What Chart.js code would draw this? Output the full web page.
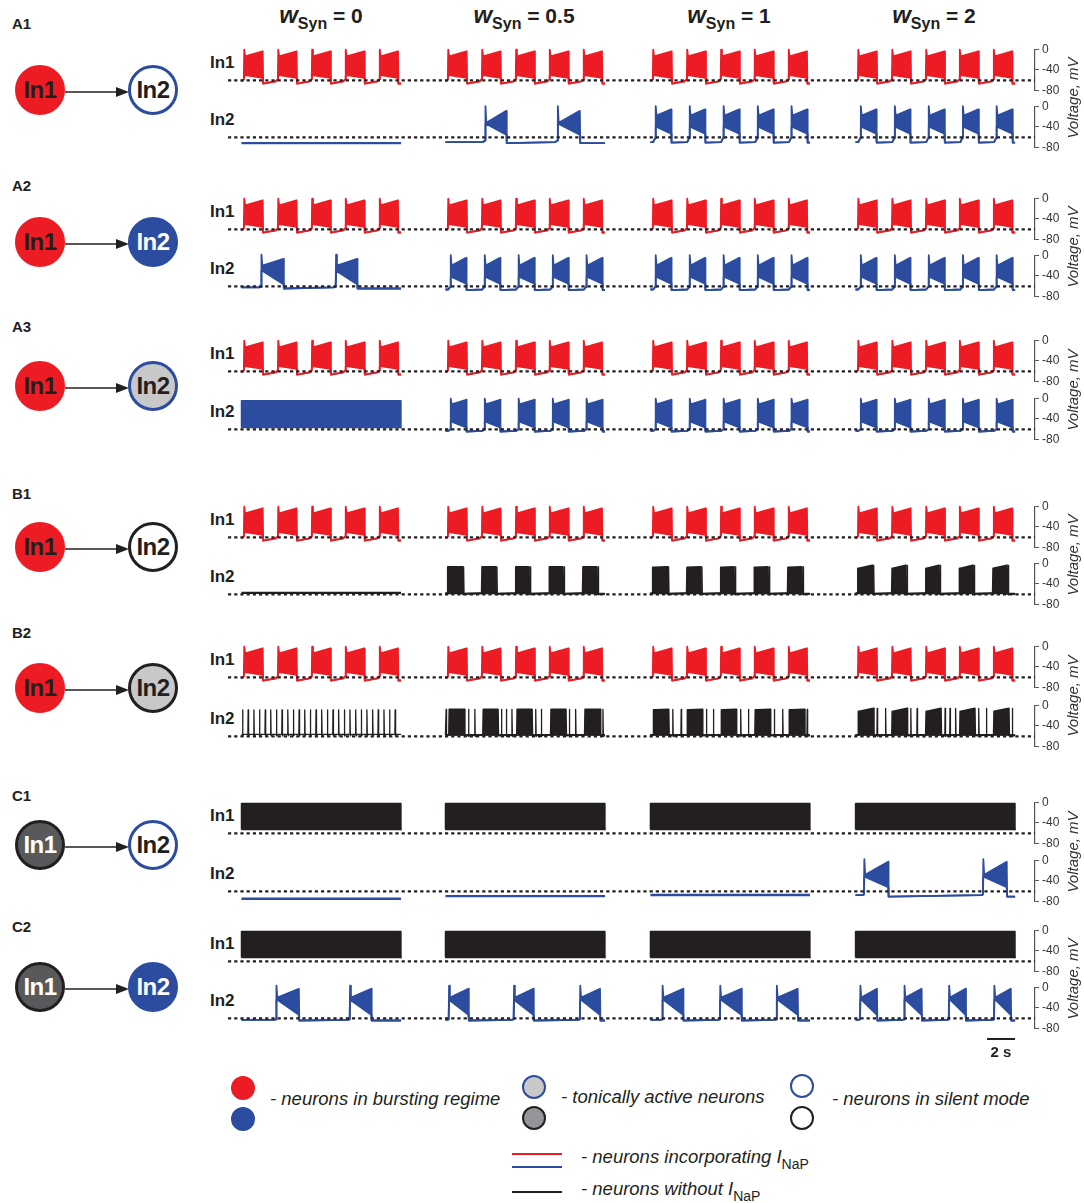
<!DOCTYPE html>
<html>
<head>
<meta charset="utf-8">
<script src="https://cdn.jsdelivr.net/npm/chart.js@4.4.0/dist/chart.umd.min.js"></script>
<style>
body { margin: 0; background: #fff; font-family: "Liberation Sans", Arial, sans-serif; color: #231f20; }
#page { position: relative; width: 1084px; height: 1203px; overflow: hidden; }
.abs { position: absolute; }
.head { font-weight: bold; font-size: 21px; width: 200px; text-align: center; top: 1px; white-space: nowrap; }
.head i { font-size: 24px; }
.head sub { font-size: 16px; vertical-align: -6px; }
.panel { font-weight: bold; font-size: 15px; left: 12px; line-height: 16px; }
.nlab { font-weight: bold; font-size: 17px; left: 210px; line-height: 18px; }
.cell { width: 44px; height: 44px; border-radius: 50%; border: 3px solid; display: flex; align-items: center; justify-content: center; font-weight: bold; font-size: 24px; letter-spacing: -0.5px; }
.volt { font-style: italic; font-size: 15px; width: 110px; height: 16px; line-height: 16px; text-align: center; transform: rotate(-90deg); white-space: nowrap; color: #333; }
.leg { font-style: italic; font-size: 18.5px; white-space: nowrap; line-height: 20px; }
.leg sub { font-style: normal; font-size: 14px; vertical-align: -6px; }
.dot { width: 20px; height: 20px; border-radius: 50%; border: 2px solid; }
canvas { position: absolute; }
</style>
</head>
<body>
<div id="page"></div>
<script>
// ---- data ----
const wSyn = ['0', '0.5', '1', '2'];
const panels = ['A1', 'A2', 'A3', 'B1', 'B2', 'C1', 'C2'];
const voltTicks = [0, -40, -80];

// burst onsets / offsets in seconds (each trace runs 0.1 - 11.5 s)
const in1On  = [0.27, 2.70, 5.12, 7.52, 9.95];
const in1Off = [1.62, 4.04, 6.46, 8.88, 11.28];
const syncOn  = [0.45, 2.88, 5.30, 7.74, 10.15];
const syncOff = [1.58, 4.00, 6.45, 8.88, 11.30];
const a1HalfOn  = [2.93, 8.10];
const a1HalfOff = [4.45, 9.70];
const a2ZeroOn  = [1.50, 6.83];
const a2ZeroOff = [3.10, 8.36];
const c1TwoOn  = [0.70, 9.20];
const c1TwoOff = [2.43, 10.90];
const c2On  = [[2.57, 7.83], [0.33, 4.97, 9.70], [0.94, 5.06, 9.10], [0.42, 3.57, 6.76, 9.99]];
const c2Off = [[4.20, 9.37], [1.74, 6.38, 11.14], [2.43, 6.60, 10.62], [1.63, 4.82, 7.96, 11.19]];
const b1On   = [0.24, 2.69, 5.10, 7.50, 9.90];
const b1Off  = [1.30, 3.68, 6.06, 8.49, 10.92];
const b1Last = [1.40, 3.78, 6.16, 8.59, 11.02];
const b2Tonic = [0.18, 0.58, 0.99, 1.39, 1.80, 2.19, 2.60, 3.00, 3.41, 3.81, 4.22, 4.62, 5.02, 5.43,
                 5.83, 6.24, 6.64, 7.04, 7.45, 7.85, 8.26, 8.66, 9.06, 9.47, 9.87, 10.28, 10.68, 11.08];
const b2On  = [[0.35, 2.78, 5.20, 7.62, 10.05], [0.30, 2.72, 5.15, 7.57, 10.00], [0.28, 2.70, 5.12, 7.55, 9.97]];
const b2Off = [[1.45, 3.85, 6.28, 8.70, 11.15], [1.40, 3.80, 6.22, 8.65, 11.10], [1.38, 3.78, 6.20, 8.62, 11.05]];
const b2Spk = [[0.15, 1.75, 2.20, 4.10, 4.45, 4.85, 6.55, 6.95, 8.95, 9.40, 11.35],
               [1.70, 2.30, 4.10, 4.60, 6.55, 7.10, 8.95, 9.55, 11.30],
               [1.65, 2.25, 4.05, 4.50, 6.50, 6.85, 7.25, 8.90, 9.45, 11.30]];

// burst shapes, mV: [pre-onset, spike peak, top start, top end, trough start, trough end, after burst, before next]
const redShape = [-58, -1, -14, -4, -50, -55, -66, -62];
const syncA1 = [-61, 0, -18, -6, -40, -53, -70, -69];
const syncA2 = [-61, 0, -20, -5, -42, -55, -67, -66];
const syncA3 = [-60, -1, -12, -3, -45, -56, -64, -63];
const slowA1 = [-66, 0, -32, -9, -34, -55, -71, -69];
const slowA2 = [-61, 1, -20, -7, -30, -56, -64, -62];
const slowC1 = [-66, 2, -28, -3, -32, -52, -70, -67];
const slowC2 = [-62, 3, -20, -3, -24, -53, -64, -63];
const blackB1 = [[-58, -7, -7, -7, -58, -58, -59, -58], [-58, -8, -8, -7, -58, -58, -59, -58], [-58, -10, -10, -4, -58, -58, -59, -58]];
const blackB2 = [[-57, -8, -8, -8, -57, -57, -58, -57], [-57, -9, -9, -8, -57, -57, -58, -57], [-57, -12, -12, -6, -57, -57, -58, -57]];
const blockA3 = [-56, -5, -5, -5, -56, -56, -56, -56];
const blockC  = [-52, -3, -3, -3, -52, -52, -52, -52];
const flatA1 = -71;
const flatB1 = -57;
const flatC1 = [-74, -69, -67];
const tonicPeak = -9, tonicBase = -56;

// ---- layout ----
const RED = '#ed1c24', BLUE = '#2b4c9f', BLACK = '#231f20';
const T0 = 0.1, T1 = 11.5;
const colShift = [0, 14.57, 29.21, 43.86];      // column start, s from first column
const xMin = -0.86, xMax = 56.78;               // canvas area 228 .. 1035 px
const in1Zero = [47, 196, 338, 504, 643.5, 800, 928];
const in2Zero = [103.5, 253, 395.5, 561, 702.5, 858, 985];
const panelY  = [16, 178, 319, 486, 625, 788, 919];
const circleY = [90, 242, 386, 547, 688, 845, 987];
const colCenter = [321, 524, 729, 934];

// ---- dataset builders ----
function lineSet(pts, color, fill, width) {
  return { data: pts, borderColor: color, backgroundColor: color, borderWidth: width || 1.8,
           fill: fill, pointRadius: 0, tension: 0, clip: 12, borderJoinStyle: 'round' };
}
function shift(pts, dx) { return pts.map(p => ({ x: p.x + dx, y: p.y })); }

function burstSets(on, off, shape, color, dx) {
  const [pre, peak, top0, top1, bot0, bot1, after, rest] = shape;
  const up = [{ x: T0, y: rest }], lo = [{ x: T0, y: rest }];
  on.forEach((t, i) => {
    const e = off[i];
    if (t - 0.15 > up[up.length - 1].x) { up.push({ x: t - 0.15, y: rest }); lo.push({ x: t - 0.15, y: rest }); }
    up.push({ x: t, y: pre }, { x: t + 0.03, y: peak }, { x: t + 0.09, y: top0 }, { x: e, y: top1 }, { x: e + 0.03, y: after });
    lo.push({ x: t, y: pre }, { x: t + 0.03, y: bot0 }, { x: t + 0.09, y: bot0 }, { x: e, y: bot1 }, { x: e + 0.03, y: after });
  });
  const tail = Math.max(T1, up[up.length - 1].x + 0.05);
  up.push({ x: tail, y: after }); lo.push({ x: tail, y: after });
  return [lineSet(shift(up, dx), color, '+1'), lineSet(shift(lo, dx), color, false)];
}
function spikeSets(times, base, peak, color, dx) {
  const pts = [{ x: T0, y: base }];
  times.forEach(s => pts.push({ x: s - 0.02, y: base }, { x: s, y: peak }, { x: s + 0.03, y: base - 3 }, { x: s + 0.1, y: base }));
  pts.push({ x: T1, y: base });
  return [lineSet(shift(pts, dx), color, false, 1.3)];
}
function flatSets(v, color, dx) {
  return [lineSet(shift([{ x: T0, y: v }, { x: T1, y: v }], dx), color, false, 2.4)];
}

const red = dx => burstSets(in1On, in1Off, redShape, RED, dx);
const blackBlock = dx => burstSets([T0], [T1 - 0.05], blockC, BLACK, dx);

const rowTraces = [
  [[red, red, red, red],
   [dx => flatSets(flatA1, BLUE, dx), dx => burstSets(a1HalfOn, a1HalfOff, slowA1, BLUE, dx),
    dx => burstSets(syncOn, syncOff, syncA1, BLUE, dx), dx => burstSets(syncOn, syncOff, syncA1, BLUE, dx)]],
  [[red, red, red, red],
   [dx => burstSets(a2ZeroOn, a2ZeroOff, slowA2, BLUE, dx), dx => burstSets(syncOn, syncOff, syncA2, BLUE, dx),
    dx => burstSets(syncOn, syncOff, syncA2, BLUE, dx), dx => burstSets(syncOn, syncOff, syncA2, BLUE, dx)]],
  [[red, red, red, red],
   [dx => burstSets([T0], [T1 - 0.05], blockA3, BLUE, dx), dx => burstSets(syncOn, syncOff, syncA3, BLUE, dx),
    dx => burstSets(syncOn, syncOff, syncA3, BLUE, dx), dx => burstSets(syncOn, syncOff, syncA3, BLUE, dx)]],
  [[red, red, red, red],
   [dx => flatSets(flatB1, BLACK, dx),
    ...[0, 1, 2].map(k => dx => burstSets(b1On, b1Off, blackB1[k], BLACK, dx).concat(spikeSets(b1Last, -58, blackB1[k][3], BLACK, dx)))]],
  [[red, red, red, red],
   [dx => spikeSets(b2Tonic, tonicBase, tonicPeak, BLACK, dx),
    ...[0, 1, 2].map(k => dx => burstSets(b2On[k], b2Off[k], blackB2[k], BLACK, dx).concat(spikeSets(b2Spk[k], -57, blackB2[k][3], BLACK, dx)))]],
  [[blackBlock, blackBlock, blackBlock, blackBlock],
   [dx => flatSets(flatC1[0], BLUE, dx), dx => flatSets(flatC1[1], BLUE, dx), dx => flatSets(flatC1[2], BLUE, dx),
    dx => burstSets(c1TwoOn, c1TwoOff, slowC1, BLUE, dx)]],
  [[blackBlock, blackBlock, blackBlock, blackBlock],
   [0, 1, 2, 3].map(k => dx => burstSets(c2On[k], c2Off[k], slowC2, BLUE, dx))]
];

// ---- drawing ----
const page = document.getElementById('page');
function add(html, cls, style) {
  const d = document.createElement('div');
  d.className = 'abs ' + (cls || '');
  d.innerHTML = html;
  Object.assign(d.style, style);
  page.appendChild(d);
  return d;
}

wSyn.forEach((w, k) => add('<i>w</i><sub>Syn</sub> = ' + w, 'head', { left: (colCenter[k] - 100) + 'px' }));

function makeChart(zeroY, builders) {
  const c = document.createElement('canvas');
  c.width = 856; c.height = 62;
  c.style.left = '228px'; c.style.top = (zeroY - 8) + 'px';
  page.appendChild(c);
  const datasets = [lineSet([{ x: xMin, y: -60 }, { x: xMax, y: -60 }], BLACK, false, 2.2)];
  datasets[0].borderDash = [3.2, 3];
  builders.forEach((b, k) => datasets.push(...b(colShift[k])));
  new Chart(c, {
    type: 'line',
    data: { datasets },
    options: {
      responsive: false, animation: false, events: [],
      layout: { padding: { top: 8, bottom: 8, left: 0, right: 0 } },
      plugins: { legend: { display: false }, tooltip: { enabled: false } },
      scales: {
        x: { type: 'linear', min: xMin, max: xMax, display: false },
        y: {
          position: 'right', min: -80, max: 0,
          afterFit: s => { s.width = 49; },
          grid: { drawOnChartArea: false, tickLength: 4, color: '#555', lineWidth: 1 },
          border: { display: true, color: '#555', width: 1.2 },
          ticks: { stepSize: 20, padding: 3, color: '#333', font: { size: 12, family: 'Liberation Sans' },
                   callback: v => voltTicks.includes(v) ? String(v) : '' }
        }
      }
    }
  });
}

const circleStyle = [
  [['In1', RED, RED, BLACK], ['In2', '#fff', BLUE, BLACK]],
  [['In1', RED, RED, BLACK], ['In2', BLUE, BLUE, '#fff']],
  [['In1', RED, RED, BLACK], ['In2', '#c8c8c8', BLUE, BLACK]],
  [['In1', RED, RED, BLACK], ['In2', '#fff', BLACK, BLACK]],
  [['In1', RED, RED, BLACK], ['In2', '#c8c8c8', BLACK, BLACK]],
  [['In1', '#58595b', BLACK, '#fff'], ['In2', '#fff', BLUE, BLACK]],
  [['In1', '#58595b', BLACK, '#fff'], ['In2', BLUE, BLUE, '#fff']]
];

panels.forEach((p, r) => {
  add(p, 'panel', { top: panelY[r] + 'px' });
  const cy = circleY[r];
  [15, 128].forEach((left, j) => {
    const [txt, fillC, edge, ink] = circleStyle[r][j];
    add(txt, 'cell', { left: left + 'px', top: (cy - 25) + 'px', background: fillC, borderColor: edge, color: ink });
  });
  add('<svg width="66" height="12"><line x1="0" y1="6" x2="56" y2="6" stroke="#231f20" stroke-width="1.6"/>' +
      '<polygon points="51,1 64,6 51,11" fill="#231f20"/></svg>', '', { left: '65px', top: (cy - 6) + 'px', height: '12px' });
  add('In1', 'nlab', { top: (in1Zero[r] + 7) + 'px' });
  add('In2', 'nlab', { top: (in2Zero[r] + 7) + 'px' });
  makeChart(in1Zero[r], rowTraces[r][0]);
  makeChart(in2Zero[r], rowTraces[r][1]);
  const mid = (in1Zero[r] + in2Zero[r] + 45.5) / 2;
  add('Voltage, mV', 'volt', { left: (1073 - 55) + 'px', top: (mid - 8) + 'px' });
});

// scale bar
add('', '', { left: '987px', top: '1038px', width: '28px', height: '2px', background: BLACK });
add('2 s', '', { left: '976px', top: '1043px', width: '50px', textAlign: 'center', fontWeight: 'bold', fontSize: '15px' });

// legend
add('', 'dot', { left: '231px', top: '1076px', background: RED, borderColor: RED });
add('', 'dot', { left: '231px', top: '1107px', background: BLUE, borderColor: BLUE });
add('- neurons in bursting regime', 'leg', { left: '270px', top: '1089px' });
add('', 'dot', { left: '522px', top: '1075px', background: '#c8c8c8', borderColor: BLUE });
add('', 'dot', { left: '522px', top: '1106px', background: '#939598', borderColor: BLACK });
add('- tonically active neurons', 'leg', { left: '561px', top: '1087px' });
add('', 'dot', { left: '790px', top: '1074px', background: '#fff', borderColor: BLUE });
add('', 'dot', { left: '790px', top: '1106px', background: '#fff', borderColor: BLACK });
add('- neurons in silent mode', 'leg', { left: '832px', top: '1089px' });
add('', '', { left: '512px', top: '1153px', width: '50px', height: '2px', background: RED });
add('', '', { left: '512px', top: '1166px', width: '50px', height: '2px', background: BLUE });
add('- neurons incorporating <i>I</i><sub>NaP</sub>', 'leg', { left: '581px', top: '1147px' });
add('', '', { left: '512px', top: '1191px', width: '50px', height: '2px', background: BLACK });
add('- neurons without <i>I</i><sub>NaP</sub>', 'leg', { left: '581px', top: '1179px' });
</script>
</body>
</html>
